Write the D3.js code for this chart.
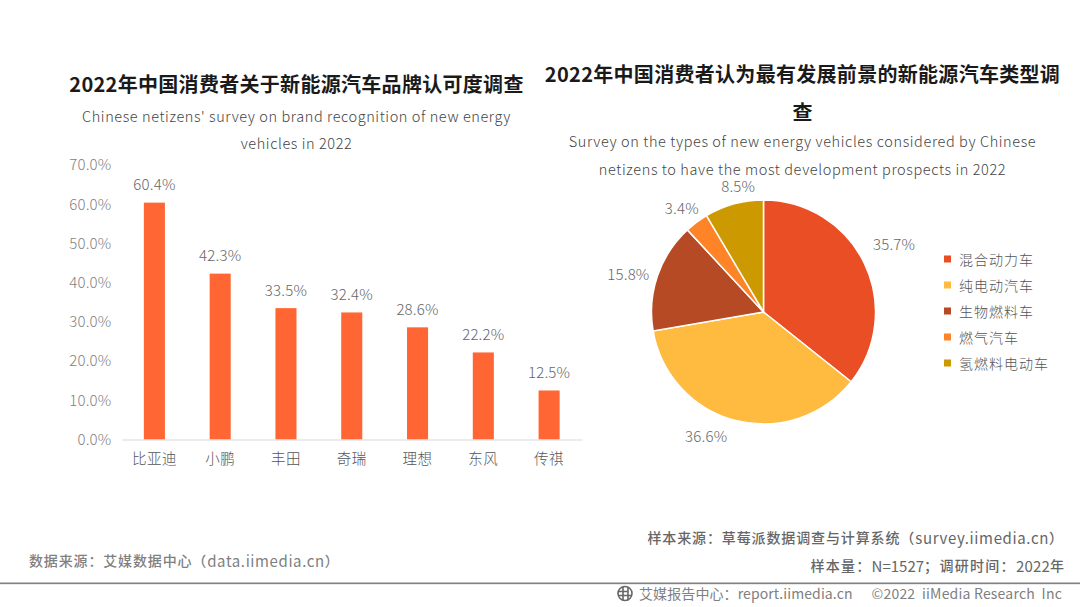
<!DOCTYPE html>
<html><head><meta charset="utf-8">
<script src="https://cdn.jsdelivr.net/npm/d3@7"></script>
<style>
html,body{margin:0;padding:0;background:#fff;overflow:hidden}
text{font-family:"Noto Sans CJK SC","Noto Sans",sans-serif}
</style></head><body>
<svg id="c" width="1080" height="607"></svg>
<script>
const brands=["比亚迪","小鹏","丰田","奇瑞","理想","东风","传祺"];
const brandValues=[60.4,42.3,33.5,32.4,28.6,22.2,12.5];
const yTicks=[0,10,20,30,40,50,60,70];
const types=["混合动力车","纯电动汽车","生物燃料车","燃气汽车","氢燃料电动车"];
const typeValues=[35.7,36.6,15.8,3.4,8.5];
const typeColors=["#E94E24","#FFBA40","#B54A24","#FF8428","#CC9900"];
const labelNudge=[[13.5,-12],[-25,-2],[-12,3],[-4,0],[9,-1]];

const svg=d3.select("#c");
function txt(x,y,s,o={}){
  return svg.append("text").attr("x",x).attr("y",y).text(s)
   .attr("text-anchor",o.a||"middle").attr("font-size",o.fs||14)
   .attr("font-weight",o.w||400).attr("fill",o.c||"#444")
   .attr("letter-spacing",o.ls||0).attr("dominant-baseline","central");
}
// Titles
txt(296.5,83.5,"2022年中国消费者关于新能源汽车品牌认可度调查",{fs:20,w:700,c:"#1a1a1a",ls:.3});
txt(296.5,115,"Chinese netizens' survey on brand recognition of new energy",{fs:14.5,w:300,c:"#444",ls:.58});
txt(296.5,142,"vehicles in 2022",{fs:14.5,w:300,c:"#444",ls:.58});
txt(802.5,73.5,"2022年中国消费者认为最有发展前景的新能源汽车类型调",{fs:20,w:700,c:"#1a1a1a",ls:.3});
txt(802.5,111.5,"查",{fs:20,w:700,c:"#1a1a1a"});
txt(802.5,140.5,"Survey on the types of new energy vehicles considered by Chinese",{fs:14.5,w:300,c:"#444",ls:.6});
txt(802.5,168.5,"netizens to have the most development prospects in 2022",{fs:14.5,w:300,c:"#444",ls:.6});

// Bars
const x=d3.scaleBand().domain(brands).range([121.5,582]).paddingInner(.68).paddingOuter(.34);
const y=d3.scaleLinear().domain([0,70]).range([439.5,165]);
const yAxis=d3.axisLeft(y).tickValues(yTicks).tickSize(0).tickPadding(0).tickFormat(d=>d.toFixed(1)+"%");
const gy=svg.append("g").attr("transform","translate(111.5,0)").call(yAxis);
gy.select(".domain").remove();
gy.selectAll("text").attr("font-size",15).attr("font-weight",300).attr("fill","#7f7f7f").attr("letter-spacing",.2)
  .style("font-family",'"Noto Sans CJK SC"');
svg.append("g").selectAll("rect").data(brands).join("rect")
  .attr("x",d=>x(d)).attr("width",x.bandwidth())
  .attr("y",(d,i)=>y(brandValues[i])).attr("height",(d,i)=>y(0)-y(brandValues[i]))
  .attr("fill","#FF6633");
const xAxis=d3.axisBottom(x).tickSize(0).tickPadding(14);
const gx=svg.append("g").attr("transform","translate(0,439.5)").call(xAxis);
gx.select(".domain").attr("stroke","#d9d9d9");
gx.selectAll("text").attr("font-size",14.5).attr("font-weight",300).attr("fill","#555").attr("letter-spacing",.5)
  .style("font-family",'"Noto Sans CJK SC"');
brands.forEach((b,i)=>txt(x(b)+x.bandwidth()/2,y(brandValues[i])-19,brandValues[i].toFixed(1)+"%",{fs:15,w:300,c:"#666",ls:.2}));

// Pie
const cx=763.5,cy=312,R=112;
const pie=d3.pie().sort(null).value(d=>d);
const arc=d3.arc().innerRadius(0).outerRadius(R);
const lab=d3.arc().innerRadius(130).outerRadius(130);
const gp=svg.append("g").attr("transform",`translate(${cx},${cy})`);
const arcs=pie(typeValues);
gp.selectAll("path").data(arcs).join("path").attr("d",arc)
  .attr("fill",(d,i)=>typeColors[i]).attr("stroke","#fff").attr("stroke-width",1.5);
arcs.forEach((a,i)=>{
  const [px,py]=lab.centroid(a);
  txt(cx+px+labelNudge[i][0],cy+py+labelNudge[i][1],typeValues[i].toFixed(1)+"%",{fs:15,w:300,c:"#666",ls:.2});
});
// Legend
const ly=d3.scalePoint().domain(types).range([259,363]);
types.forEach((t,i)=>{
  svg.append("rect").attr("x",944).attr("y",ly(t)-3.5).attr("width",7).attr("height",7).attr("fill",typeColors[i]);
  txt(959,ly(t)-.5,t,{a:"start",fs:14,w:300,c:"#555",ls:1});
});

// Footer
function foot(anchorX,y,parts,c,a){
  const t=svg.append("text").attr("x",anchorX).attr("y",y).attr("text-anchor",a)
    .attr("dominant-baseline","central").attr("fill",c).attr("font-size",14.5);
  parts.forEach(p=>t.append("tspan").text(p[0]).attr("font-weight",p[1]).attr("font-size",p[2]).attr("letter-spacing",p[3]));
}
foot(29,560,[["数据来源：艾媒数据中心（",500,14,.85],["data.iimedia.cn",400,15,.6],["）",500,14,0]],"#808080","start");
foot(1063,537,[["样本来源：草莓派数据调查与计算系统（",500,14,.88],["survey.iimedia.cn",400,15,.63],["）",500,14,0]],"#666","end");
foot(1064,565,[["样本量：",500,14,1.3],["N=1527",400,15,0],["；调研时间：",500,14,1.3],["2022",400,15,.2],["年",500,14,0]],"#666","end");
svg.append("rect").attr("x",0).attr("y",582.5).attr("width",1080).attr("height",1.5).attr("fill","#808080");
svg.append("rect").attr("x",0).attr("y",584).attr("width",1080).attr("height",1).attr("fill","#eaeaea");
const ic=svg.append("g").attr("transform","translate(625,593.5)").attr("fill","none").attr("stroke","#666").attr("stroke-width",1.6);
ic.append("circle").attr("r",7);
ic.append("path").attr("d","M-7 -2H3M-7 2H7M-2 -7V7M3 -6V7");
txt(639,593,"艾媒报告中心：report.iimedia.cn",{a:"start",fs:14,w:400,c:"#808080",ls:.1});
txt(1062,593,"©2022  iiMedia Research  Inc",{a:"end",fs:14,w:400,c:"#808080",ls:.2}).style("white-space","pre");
</script></body></html>
